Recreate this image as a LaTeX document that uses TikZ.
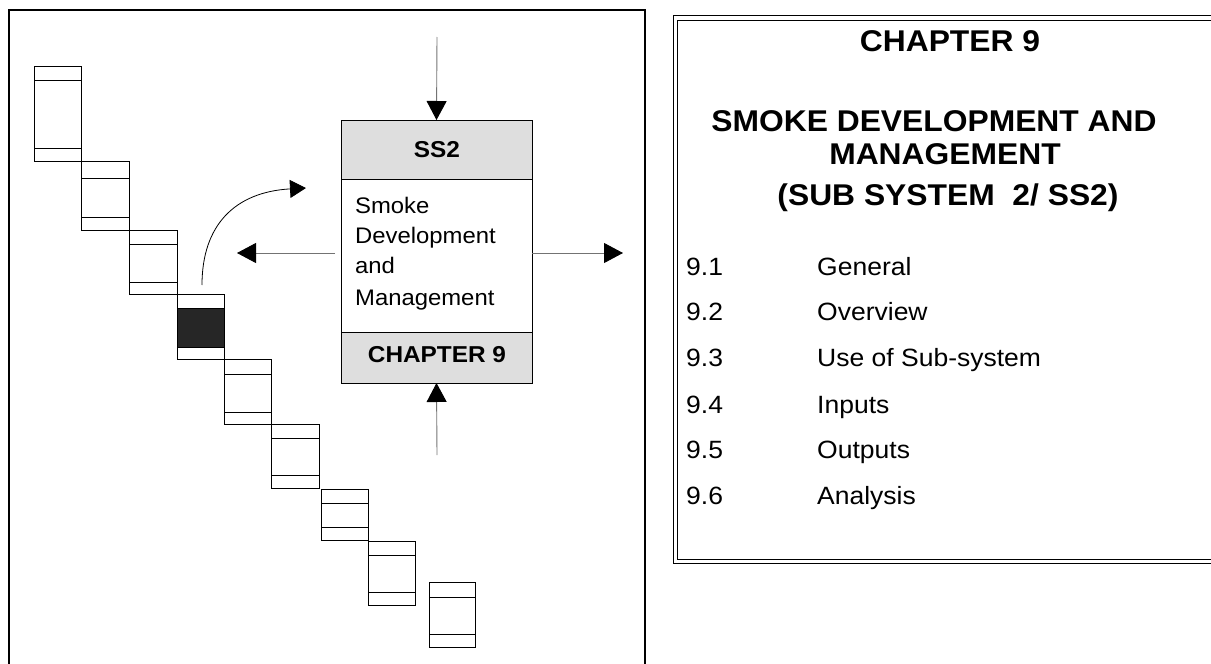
\documentclass[tikz,border=0pt]{standalone}
\usepackage{fontspec}
\setmainfont{Liberation Sans}[FakeStretch=1.06]
\usetikzlibrary{arrows.meta}
\tikzset{
  stair/.style={draw, line width=1pt, inner sep=0pt, outer sep=0pt, anchor=north west},
  band/.style={draw, line width=1pt, fill=black!13, inner sep=0pt, outer sep=0pt, anchor=north west},
  plainbox/.style={draw, line width=1pt, inner sep=0pt, outer sep=0pt, anchor=north west},
  flow/.style={draw=black!55, line width=0.9pt, -{Triangle[length=19pt,width=20pt,color=black]}},
  curvearrow/.style={draw=black, line width=0.8pt, -{Triangle[length=16pt,width=18pt,color=black]}},
  txt/.style={inner sep=0pt, anchor=base},
  ltxt/.style={inner sep=0pt, anchor=base west},
  boxfont/.style={font=\fontsize{22.5}{26}\selectfont},
  bandfont/.style={font=\bfseries\fontsize{23}{26}\selectfont},
  titlefont/.style={font=\bfseries\fontsize{30}{34}\selectfont},
  listfont/.style={font=\fontsize{25}{30}\selectfont},
}
\begin{document}
\begin{tikzpicture}[x=1pt,y=-1pt]
\useasboundingbox (0,0) rectangle (1211,664);

% left panel frame
\draw[line width=1.6pt] (9,10) rectangle (645,690);

% staircase
\fill[black!85] (177,308) rectangle (224,347);
\foreach \i/\xa/\xb/\ya/\yb/\la/\lb in {
  1/34/81/66/161/80/148,
  2/81/129/161/230/178/217,
  3/129/177/230/294/244/282,
  4/177/224/294/359/308/347,
  5/224/271/359/424/374/412,
  6/271/319/424/488/438/475,
  7/321/368/489/540/503/527,
  8/368/415/541/605/555/592,
  9/429/475/582/647/597/634}{
  \node[stair, minimum width={(\xb-\xa)*1pt}, minimum height={(\yb-\ya)*1pt}] (b\i) at (\xa,\ya) {};
  \draw[line width=1pt] (\xa,\la) -- (\xb,\la) (\xa,\lb) -- (\xb,\lb);
}

% central box
\node[band, minimum width=191pt, minimum height=59pt] (ss2) at (341,120) {};
\node[plainbox, minimum width=191pt, minimum height=153pt] (body) at (341,179) {};
\node[band, minimum width=191pt, minimum height=51pt] (chap) at (341,332) {};
\node[txt, bandfont] (ss2t) at (437,157) {SS2};
\node[txt, bandfont] (chapt) at (437,362) {CHAPTER 9};
\node[ltxt, boxfont] (l1) at (355,213) {Smoke};
\node[ltxt, boxfont] (l2) at (355,243) {Development};
\node[ltxt, boxfont] (l3) at (355,273) {and};
\node[ltxt, boxfont] (l4) at (355,305) {Management};

% arrows
\coordinate (tin) at (437,37);
\coordinate (bin) at (437,455);
\coordinate (lo) at (237,253);
\coordinate (ro) at (623,253);
\coordinate (cs) at (202,285);
\coordinate (ce) at (306,188);
\draw[flow] (tin) -- (ss2.north);
\draw[flow] (bin) -- (chap.south);
\draw[flow] ([xshift=-6pt]body.west |- lo) -- (lo);
\draw[flow] (body.east |- ro) -- (ro);
\draw[curvearrow] (cs) .. controls (202,225) and (235,192) .. (ce);

% right panel
\draw[line width=1pt] (673,15) rectangle (1240,563);
\draw[line width=1pt] (677,20) rectangle (1235,559);
\node[txt, titlefont] (h1) at (950,51) {CHAPTER 9};
\node[txt, titlefont] (h2) at (934,131) {SMOKE DEVELOPMENT AND};
\node[txt, titlefont] (h3) at (945,164) {MANAGEMENT};
\node[txt, titlefont] (h4) at (948,205) {(SUB SYSTEM\ \ 2/ SS2)};
\foreach \n/\lab/\yy in {1/General/275, 2/Overview/320, 3/Use of Sub-system/366, 4/Inputs/413, 5/Outputs/458, 6/Analysis/504}{
  \node[ltxt, listfont] (n\n) at (686,\yy) {9.\n};
  \node[ltxt, listfont] (t\n) at (817,\yy) {\lab};
}
\end{tikzpicture}
\end{document}
